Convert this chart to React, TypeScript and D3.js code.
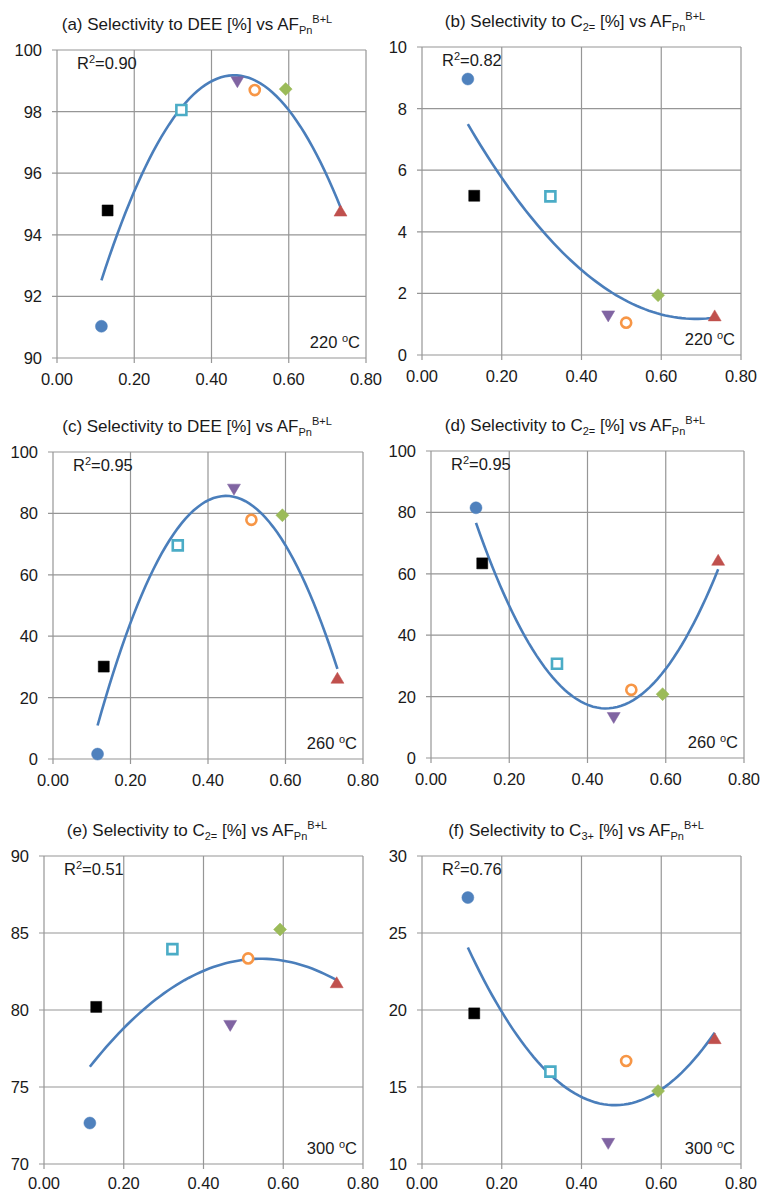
import { useEffect, useRef } from 'react';
import * as d3 from 'd3';

// AF_Pn^(B+L) of the seven catalysts (same in every panel)
const afPn = [0.115, 0.131, 0.322, 0.467, 0.512, 0.592, 0.734];

// selectivities
const selA = [91.03, 94.79, 98.05, 98.97, 98.7, 98.73, 94.77];
const selB = [8.96, 5.17, 5.15, 1.27, 1.05, 1.94, 1.27];
const selC = [1.6, 30.1, 69.6, 87.9, 77.9, 79.4, 26.3];
const selD = [81.5, 63.4, 30.7, 13.2, 22.2, 20.8, 64.4];
const selE = [72.66, 80.2, 83.95, 79.0, 83.35, 85.23, 81.77];
const selF = [27.3, 19.78, 16.0, 11.34, 16.69, 14.74, 18.14];

const xTicks = [0, 0.2, 0.4, 0.6, 0.8];
const yTicksA = [90, 92, 94, 96, 98, 100];
const yTicksB = [0, 2, 4, 6, 8, 10];
const yTicksCD = [0, 20, 40, 60, 80, 100];
const yTicksE = [70, 75, 80, 85, 90];
const yTicksF = [10, 15, 20, 25, 30];

const r2Labels = ['0.90', '0.82', '0.95', '0.95', '0.51', '0.76'];
const temps = ['220', '220', '260', '260', '300', '300'];

type Part = [string, 'n' | 'sub' | 'sup'];
const tail: Part[] = [[' [%] vs AF', 'n'], ['Pn', 'sub'], ['B+L', 'sup']];
const titles: Part[][] = [
  [['(a) Selectivity to DEE', 'n'], ...tail],
  [['(b) Selectivity to C', 'n'], ['2=', 'sub'], ...tail],
  [['(c) Selectivity to DEE', 'n'], ...tail],
  [['(d) Selectivity to C', 'n'], ['2=', 'sub'], ...tail],
  [['(e) Selectivity to C', 'n'], ['2=', 'sub'], ...tail],
  [['(f) Selectivity to C', 'n'], ['3+', 'sub'], ...tail],
];

const series = [selA, selB, selC, selD, selE, selF];
const yTickSets = [yTicksA, yTicksB, yTicksCD, yTicksCD, yTicksE, yTicksF];

// plot-area rectangles for the 3x2 grid
const frames = [
  { x0: 57, x1: 366, y0: 50, y1: 358, tx: 197, lx: 27 },
  { x0: 422, x1: 741, y0: 47, y1: 355, tx: 575, lx: 27 },
  { x0: 53, x1: 363, y0: 452, y1: 759, tx: 197, lx: 27 },
  { x0: 431, x1: 744, y0: 451, y1: 758, tx: 575, lx: 27 },
  { x0: 44, x1: 363, y0: 856, y1: 1164, tx: 197, lx: 25 },
  { x0: 422, x1: 741, y0: 856, y1: 1164, tx: 576, lx: 25 },
];

// marker per catalyst
const markers = [
  { shape: 'circle', fill: '#4F81BD', stroke: '#4F81BD' },
  { shape: 'square', fill: '#000000', stroke: '#000000' },
  { shape: 'square', fill: '#ffffff', stroke: '#4BACC6', open: true },
  { shape: 'triDown', fill: '#8064A2', stroke: '#8064A2' },
  { shape: 'circle', fill: '#ffffff', stroke: '#F79646', open: true },
  { shape: 'diamond', fill: '#9BBB59', stroke: '#9BBB59' },
  { shape: 'triUp', fill: '#C0504D', stroke: '#C0504D' },
];

const FONT = 'Liberation Sans, Arial, sans-serif';

// least squares 2nd-order polynomial (Excel trendline)
const polyFit2 = (xs: number[], ys: number[]) => {
  const s = (p: number, q = 0) => d3.sum(xs, (x, i) => Math.pow(x, p) * (q ? ys[i] : 1));
  const A = [
    [s(0), s(1), s(2), d3.sum(ys)],
    [s(1), s(2), s(3), s(1, 1)],
    [s(2), s(3), s(4), s(2, 1)],
  ];
  for (let c = 0; c < 3; c++) {
    for (let r = c + 1; r < 3; r++) {
      const f = A[r][c] / A[c][c];
      for (let k = c; k < 4; k++) A[r][k] -= f * A[c][k];
    }
  }
  const b = [0, 0, 0];
  for (let r = 2; r >= 0; r--) {
    let v = A[r][3];
    for (let k = r + 1; k < 3; k++) v -= A[r][k] * b[k];
    b[r] = v / A[r][r];
  }
  return (x: number) => b[0] + b[1] * x + b[2] * x * x;
};

const markerPath = (shape: string, open?: boolean) => {
  if (shape === 'circle') return d3.symbol(d3.symbolCircle, open ? 80 : 113)();
  if (shape === 'square') {
    const h = open ? 5 : 5.5;
    return `M${-h},${-h}H${h}V${h}H${-h}Z`;
  }
  if (shape === 'diamond') return 'M0,-6.5L6.5,0L0,6.5L-6.5,0Z';
  if (shape === 'triUp') return 'M0,-6L6.5,5L-6.5,5Z';
  return 'M0,6L6.5,-5L-6.5,-5Z';
};

const App = () => {
  const svgRef = useRef<SVGSVGElement>(null);

  useEffect(() => {
    if (!svgRef.current) return;
    document.body.style.margin = '0';
    const svg = d3.select(svgRef.current);
    svg.selectAll('*').remove();

    series.forEach((vals, p) => {
      const f = frames[p];
      const yTicks = yTickSets[p];
      const x = d3.scaleLinear().domain([0, 0.8]).range([f.x0, f.x1]);
      const y = d3.scaleLinear().domain(d3.extent(yTicks) as [number, number]).range([f.y1, f.y0]);
      const g = svg.append('g');

      // grid
      g.selectAll('line.gx').data(xTicks).enter().append('line')
        .attr('x1', d => x(d)).attr('x2', d => x(d))
        .attr('y1', f.y0).attr('y2', f.y1 + 5)
        .attr('stroke', '#969696').attr('stroke-width', 1.2);
      g.selectAll('line.gy').data(yTicks).enter().append('line')
        .attr('x1', f.x0 - 5).attr('x2', f.x1)
        .attr('y1', d => y(d)).attr('y2', d => y(d))
        .attr('stroke', '#969696').attr('stroke-width', 1.2);

      // tick labels
      g.selectAll('text.xl').data(xTicks).enter().append('text')
        .attr('x', d => x(d)).attr('y', f.y1 + f.lx)
        .attr('text-anchor', 'middle')
        .attr('font-family', FONT).attr('font-size', 16.5).attr('fill', '#1a1a1a')
        .text(d => d3.format('.2f')(d));
      g.selectAll('text.yl').data(yTicks).enter().append('text')
        .attr('x', f.x0 - 15).attr('y', d => y(d) + 6)
        .attr('text-anchor', 'end')
        .attr('font-family', FONT).attr('font-size', 16.5).attr('fill', '#1a1a1a')
        .text(d => d);

      // trendline
      const fit = polyFit2(afPn, vals);
      const [xmin, xmax] = d3.extent(afPn) as [number, number];
      const xs = d3.range(0, 61).map(i => xmin + (xmax - xmin) * i / 60);
      g.append('path')
        .attr('d', d3.line<number>().x(d => x(d)).y(d => y(fit(d)))(xs))
        .attr('fill', 'none').attr('stroke', '#4A7EBB').attr('stroke-width', 2.6);

      // markers
      g.selectAll('path.m').data(vals).enter().append('path')
        .attr('transform', (d, i) => `translate(${x(afPn[i])},${y(d)})`)
        .attr('d', (_, i) => markerPath(markers[i].shape, markers[i].open))
        .attr('fill', (_, i) => markers[i].fill)
        .attr('stroke', (_, i) => markers[i].stroke)
        .attr('stroke-width', (_, i) => (markers[i].open ? 2.6 : 0.5));

      // title
      const t = g.append('text')
        .attr('x', f.tx).attr('y', f.y0 - 20)
        .attr('text-anchor', 'middle')
        .attr('font-family', FONT).attr('font-size', 17).attr('fill', '#1a1a1a');
      let cur = 0;
      titles[p].forEach(([s, kind]) => {
        const target = kind === 'sub' ? 4 : kind === 'sup' ? -7 : 0;
        t.append('tspan')
          .attr('dy', target - cur)
          .attr('font-size', kind === 'n' ? 17 : 11)
          .text(s);
        cur = target;
      });

      // R² and temperature
      const r2 = g.append('text')
        .attr('x', f.x0 + 20).attr('y', f.y0 + 19)
        .attr('font-family', FONT).attr('font-size', 16.5).attr('fill', '#1a1a1a');
      r2.append('tspan').text('R');
      r2.append('tspan').attr('font-size', 11).attr('dy', -6).text('2');
      r2.append('tspan').attr('dy', 6).text(`=${r2Labels[p]}`);

      const tc = g.append('text')
        .attr('x', f.x1 - 6).attr('y', f.y1 - 10)
        .attr('text-anchor', 'end')
        .attr('font-family', FONT).attr('font-size', 16.5).attr('fill', '#1a1a1a');
      tc.append('tspan').text(`${temps[p]} `);
      tc.append('tspan').attr('font-size', 11).attr('dy', -6).text('o');
      tc.append('tspan').attr('dy', 6).text('C');
    });
  }, []);

  return <svg ref={svgRef} width={763} height={1191} style={{ display: 'block', background: '#fff' }} />;
};

export default App;
